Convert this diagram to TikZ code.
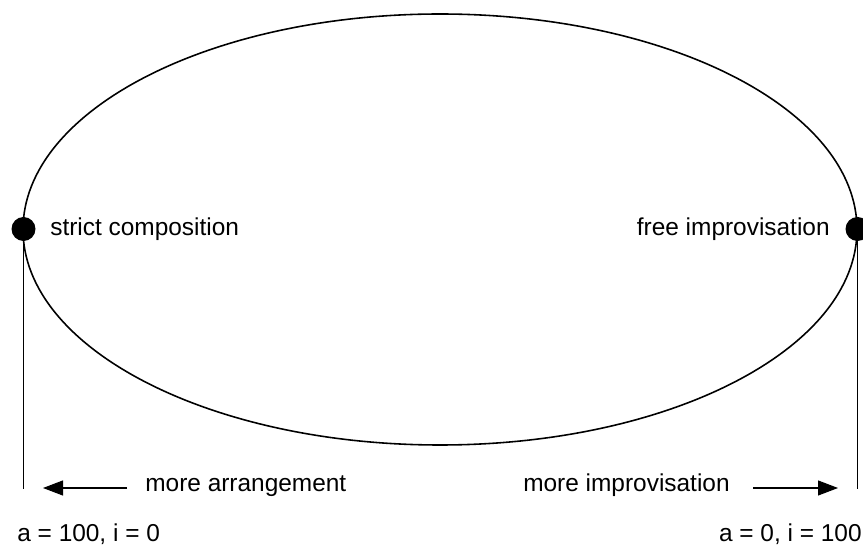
\documentclass[tikz,border=0pt]{standalone}
\usepackage{fontspec}
\setmainfont{Liberation Sans}
\usetikzlibrary{positioning,arrows.meta}

\begin{document}
\begin{tikzpicture}[
    every node/.style={inner sep=0pt, font=\fontsize{13.9pt}{16pt}\selectfont},
    polepoint/.style={circle, fill=black, minimum size=4.8mm},
    spread/.style={draw, line width=0.9pt},
    poleline/.style={draw, line width=0.6pt},
    push/.style={draw, line width=0.6pt, -{Triangle[length=4mm, width=3mm]}}
]
\useasboundingbox (0,0) rectangle (17.26,10.94);

% The range between the two poles
\draw[spread] (8.80,6.35) ellipse (8.34 and 4.31);

% Left pole
\coordinate (strictend) at (0.47,1.16);
\draw[poleline] (0.47,6.36) -- (strictend);
\node[polepoint] (strict) at (0.47,6.36) {};
\node[anchor=base west] (strictlabel) at (1.00,6.22) {strict composition};

% Right pole
\coordinate (freeend) at (17.15,1.16);
\draw[poleline] (17.15,6.36) -- (freeend);
\node[polepoint] (free) at (17.15,6.36) {};
\node[anchor=base east] (freelabel) at (16.60,6.22) {free improvisation};

% Direction arrows
\coordinate (arrangetail) at (2.54,1.18);
\coordinate (arrangetip) at (0.86,1.18);
\draw[push] (arrangetail) -- (arrangetip);
\node[anchor=base west] (arrange) at (2.90,1.10) {more arrangement};

\coordinate (improtail) at (15.06,1.18);
\coordinate (improtip) at (16.76,1.18);
\draw[push] (improtail) -- (improtip);
\node[anchor=base east] (impro) at (14.60,1.10) {more improvisation};

% Values at the ends
\node[anchor=base west] (strictval) at (0.34,0.10) {a = 100, i = 0};
\node[anchor=base east] (freeval) at (17.24,0.10) {a = 0, i = 100};
\end{tikzpicture}
\end{document}
